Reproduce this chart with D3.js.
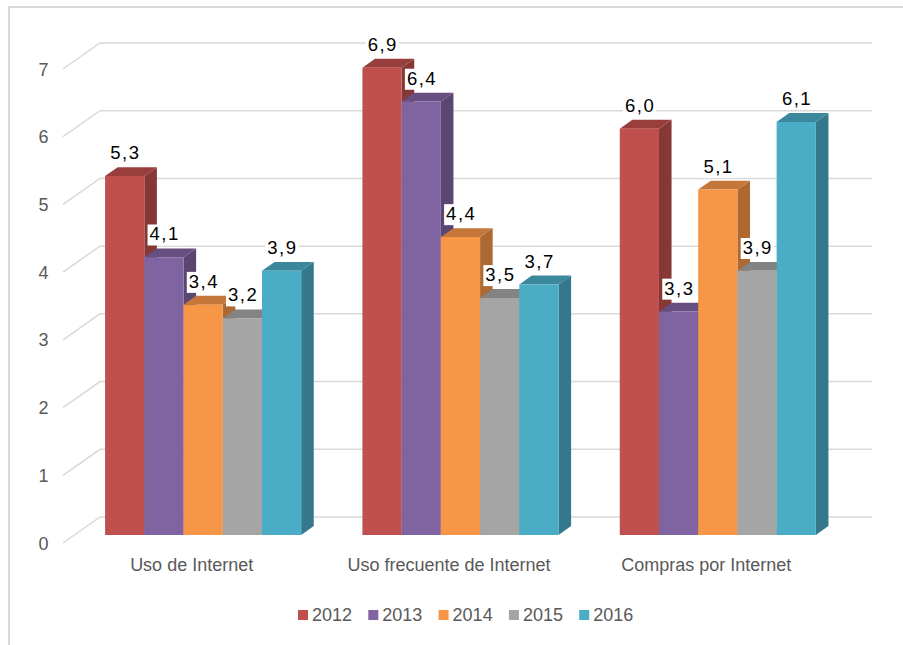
<html lang="es">
<head>
    <meta charset="UTF-8">
    <title>Indicadores de Internet</title>
    <script src="https://d3js.org/d3.v7.min.js"></script>
</head>
<style>
    body {
        margin: 0;
        background-color: #fff;
        overflow: hidden;
    }
    text {
        font-family: "Liberation Sans", Arial, sans-serif;
    }
</style>
<body>
    <svg id="chart" width="903" height="645"></svg>

    <script>
        // data
        var categories = ["Uso de Internet", "Uso frecuente de Internet", "Compras por Internet"];
        var years = ["2012", "2013", "2014", "2015", "2016"];
        var values2012 = [5.3, 6.9, 6.0];
        var values2013 = [4.1, 6.4, 3.3];
        var values2014 = [3.4, 4.4, 5.1];
        var values2015 = [3.2, 3.5, 3.9];
        var values2016 = [3.9, 3.7, 6.1];
        var yTicks = [0, 1, 2, 3, 4, 5, 6, 7];
        var colors = ["#C0504D", "#8064A2", "#F79646", "#A5A5A5", "#4BACC6"];

        var seriesValues = [values2012, values2013, values2014, values2015, values2016];

        const svg = d3.select("svg#chart");

        // outer frame, runs off the right and bottom of the page
        svg.append("rect")
            .attr("x", 9).attr("y", 7)
            .attr("width", 920).attr("height", 660)
            .style("fill", "none")
            .style("stroke", "#d9d9d9")
            .style("stroke-width", 2);

        // front plane of the 3D box, plus a depth vector towards the back wall
        var frontLeft = 63, frontRight = 835;
        var depth = [37, -26];
        var barDepthFrom = 0.31, barDepthTo = 0.65;

        var y = d3.scaleLinear().domain([0, 7]).range([543, 69]);
        var x0 = d3.scaleBand()
            .domain(categories)
            .range([frontLeft, frontRight])
            .paddingInner(0.238)
            .paddingOuter(0.119);
        var x1 = d3.scaleBand()
            .domain(years)
            .range([0, x0.bandwidth()]);
        var color = d3.scaleOrdinal().domain(years).range(colors);

        function pt(xf, v, f) {
            return [xf + depth[0] * f, y(v) + depth[1] * f];
        }

        // gridlines: diagonal on the side wall, then straight along the back wall
        var grid = svg.append("g").attr("class", "grid");
        yTicks.forEach(function (t) {
            var a = pt(frontLeft, t, 0), b = pt(frontLeft, t, 1), c = pt(frontRight, t, 1);
            grid.append("path")
                .attr("d", "M" + a + "L" + b + "L" + c)
                .style("fill", "none")
                .style("stroke", "#d9d9d9")
                .style("stroke-width", 1.5);
        });

        svg.append("g").selectAll("text")
            .data(yTicks)
            .join("text")
            .attr("x", 48.5)
            .attr("y", d => y(d) + 6.5)
            .attr("text-anchor", "end")
            .style("font-size", "18px")
            .style("fill", "#595959")
            .text(d => d);

        // bars
        var bars = [];
        categories.forEach(function (cat, ci) {
            years.forEach(function (yr, si) {
                bars.push({ cat: cat, year: yr, value: seriesValues[si][ci] });
            });
        });

        function poly(points) {
            return "M" + points.join("L") + "Z";
        }

        var barG = svg.append("g").attr("class", "bars");
        bars.forEach(function (d) {
            var xl = x0(d.cat) + x1(d.year);
            var xr = xl + x1.bandwidth();
            var c = d3.color(color(d.year));
            var side = c.darker(1);
            var top = c.darker(0.65);

            var fbl = pt(xl, 0, barDepthFrom), fbr = pt(xr, 0, barDepthFrom);
            var ftl = pt(xl, d.value, barDepthFrom), ftr = pt(xr, d.value, barDepthFrom);
            var bbr = pt(xr, 0, barDepthTo);
            var btl = pt(xl, d.value, barDepthTo), btr = pt(xr, d.value, barDepthTo);

            barG.append("path").attr("d", poly([fbr, bbr, btr, ftr])).style("fill", side);
            barG.append("path").attr("d", poly([ftl, ftr, btr, btl])).style("fill", top);
            barG.append("path").attr("d", poly([fbl, fbr, ftr, ftl])).style("fill", c);
        });

        // value labels with a white box behind them
        var fmt = d3.format(".1f");
        var labelG = svg.append("g").attr("class", "labels");
        bars.forEach(function (d) {
            var cx = x0(d.cat) + x1(d.year) + x1.bandwidth() / 2 + depth[0] * barDepthFrom + 0.75;
            var base = y(d.value) + depth[1] * barDepthTo - 8;
            var g = labelG.append("g");
            var rect = g.append("rect").style("fill", "#fff");
            var txt = g.append("text")
                .attr("x", cx)
                .attr("y", base)
                .attr("text-anchor", "middle")
                .style("font-size", "18.5px")
                .style("letter-spacing", "1.5px")
                .style("fill", "#000")
                .text(fmt(d.value).replace(".", ","));
            var bb = txt.node().getBBox();
            rect.attr("x", bb.x - 2).attr("y", bb.y + 1)
                .attr("width", bb.width + 3).attr("height", bb.height);
        });

        // category labels
        svg.append("g").selectAll("text")
            .data(categories)
            .join("text")
            .attr("x", d => x0(d) + x0.bandwidth() / 2)
            .attr("y", 571)
            .attr("text-anchor", "middle")
            .style("font-size", "18px")
            .style("fill", "#595959")
            .text(d => d);

        // legend
        var legend = svg.append("g").attr("transform", "translate(298,610)");
        var item = legend.selectAll("g")
            .data(years)
            .join("g")
            .attr("transform", (d, i) => "translate(" + (i * 70.3) + ",0)");
        item.append("rect")
            .attr("width", 10).attr("height", 10)
            .style("fill", d => color(d));
        item.append("text")
            .attr("x", 14)
            .attr("y", 11)
            .style("font-size", "18px")
            .style("fill", "#595959")
            .text(d => d);
    </script>
</body>
</html>
